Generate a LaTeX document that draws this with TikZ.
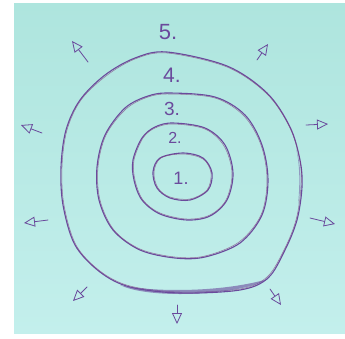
\documentclass[tikz,border=0pt]{standalone}
\usepackage{fontspec}
\setmainfont{Liberation Sans}
\usetikzlibrary{arrows.meta}
\definecolor{paperA}{HTML}{AEE5DE}
\definecolor{paperB}{HTML}{C3EFEC}
\definecolor{pen}{HTML}{6A4A9C}
\definecolor{penred}{HTML}{80407F}
\tikzset{
  ring/.style={draw=pen, line width=1.1pt, smooth cycle, tension=0.55},
  ringred/.style={draw=penred, line width=0.5pt, smooth cycle, tension=0.55, opacity=0.7},
  outarrow/.style={draw=pen, line width=0.8pt, line cap=round,
    -{Triangle[open, length=11pt, width=10pt, line width=0.8pt]}},
  digit/.style={text=pen, inner sep=0pt}
}
\begin{document}
\begin{tikzpicture}[x=1pt,y=-1pt]
\useasboundingbox (0,0) rectangle (345,338);
\fill[white] (0,0) rectangle (345,338);
\shade[top color=paperA, bottom color=paperB] (14,3) rectangle (345,333);
% ring 5
\draw[ring] plot coordinates {(167,52) (227,66) (267,93) (290,127) (300,160) (302,187) (297,220) (285,250) (268,278) (240,290) (180,293) (130,287) (100,272) (75,245) (63,205) (61,167) (66,130) (80,100) (105,75) (135,58)};
\draw[ringred] plot coordinates {(167,53) (227,67) (267,94) (290,128) (300,161) (301,187) (296,220) (284,250) (267,277) (240,289) (180,292) (130,286) (100,271) (76,245) (64,205) (62,167) (67,130) (81,100) (106,76) (135,59)};
\fill[pen, opacity=0.6] (120,285) .. controls (150,292) and (220,293) .. (268,279) .. controls (255,288) and (215,294) .. (180,294) .. controls (150,294) and (130,290) .. (120,285) -- cycle;
\fill[pen, opacity=0.5] (296,148) .. controls (301,165) and (302,185) .. (298,205) .. controls (300,185) and (300,165) .. (296,148) -- cycle;
% ring 4
\draw[ring] plot coordinates {(170,93) (215,97) (245,115) (262,145) (268,180) (262,215) (240,243) (205,257) (175,258) (140,250) (113,230) (99,200) (97,167) (105,135) (125,108) (148,96)};
\draw[ringred] plot coordinates {(170,94) (215,98) (244,116) (261,145) (267,180) (261,215) (239,242) (205,256) (175,257) (140,249) (114,230) (100,200) (98,167) (106,135) (126,109) (148,97)};
% ring 3
\draw[ring] plot coordinates {(173,123) (205,128) (225,145) (233,173) (227,200) (210,216) (187,220) (160,214) (142,200) (134,180) (133,160) (142,138) (155,127)};
\draw[ringred] plot coordinates {(173,124) (205,129) (224,146) (232,173) (226,200) (210,215) (187,219) (160,213) (143,200) (135,180) (134,160) (143,138) (155,128)};
% ring 1
\draw[ring] plot coordinates {(183,153) (203,158) (212,173) (208,190) (190,200) (170,198) (157,188) (153,172) (160,158)};
\draw[ringred] plot coordinates {(183,154) (203,159) (211,173) (207,190) (190,199) (170,197) (158,188) (154,172) (161,158)};
% labels
\node[digit, font=\fontsize{22}{22}\selectfont] (l5) at (168,32) {5.};
\node[digit, font=\fontsize{21}{21}\selectfont] (l4) at (172,75) {4.};
\node[digit, font=\fontsize{19}{19}\selectfont] (l3) at (172,109) {3.};
\node[digit, font=\fontsize{16}{16}\selectfont] (l2) at (175,138) {2.};
\node[digit, font=\fontsize{18}{18}\selectfont] (l1) at (181,178) {1.};
% arrows
\coordinate (t1) at (88,62);   \coordinate (h1) at (72,41);
\coordinate (t2) at (257,60);  \coordinate (h2) at (268,44);
\coordinate (t3) at (42,133);  \coordinate (h3) at (21,125);
\coordinate (t4) at (306,125); \coordinate (h4) at (328,124);
\coordinate (t5) at (48,220);  \coordinate (h5) at (24,223);
\coordinate (t6) at (310,218); \coordinate (h6) at (335,224);
\coordinate (t7) at (87,287);  \coordinate (h7) at (73,301);
\coordinate (t8) at (177,305); \coordinate (h8) at (177,324);
\coordinate (t9) at (270,289); \coordinate (h9) at (281,305);
\foreach \i in {1,...,9} { \draw[outarrow] (t\i) -- (h\i); }
\end{tikzpicture}
\end{document}
